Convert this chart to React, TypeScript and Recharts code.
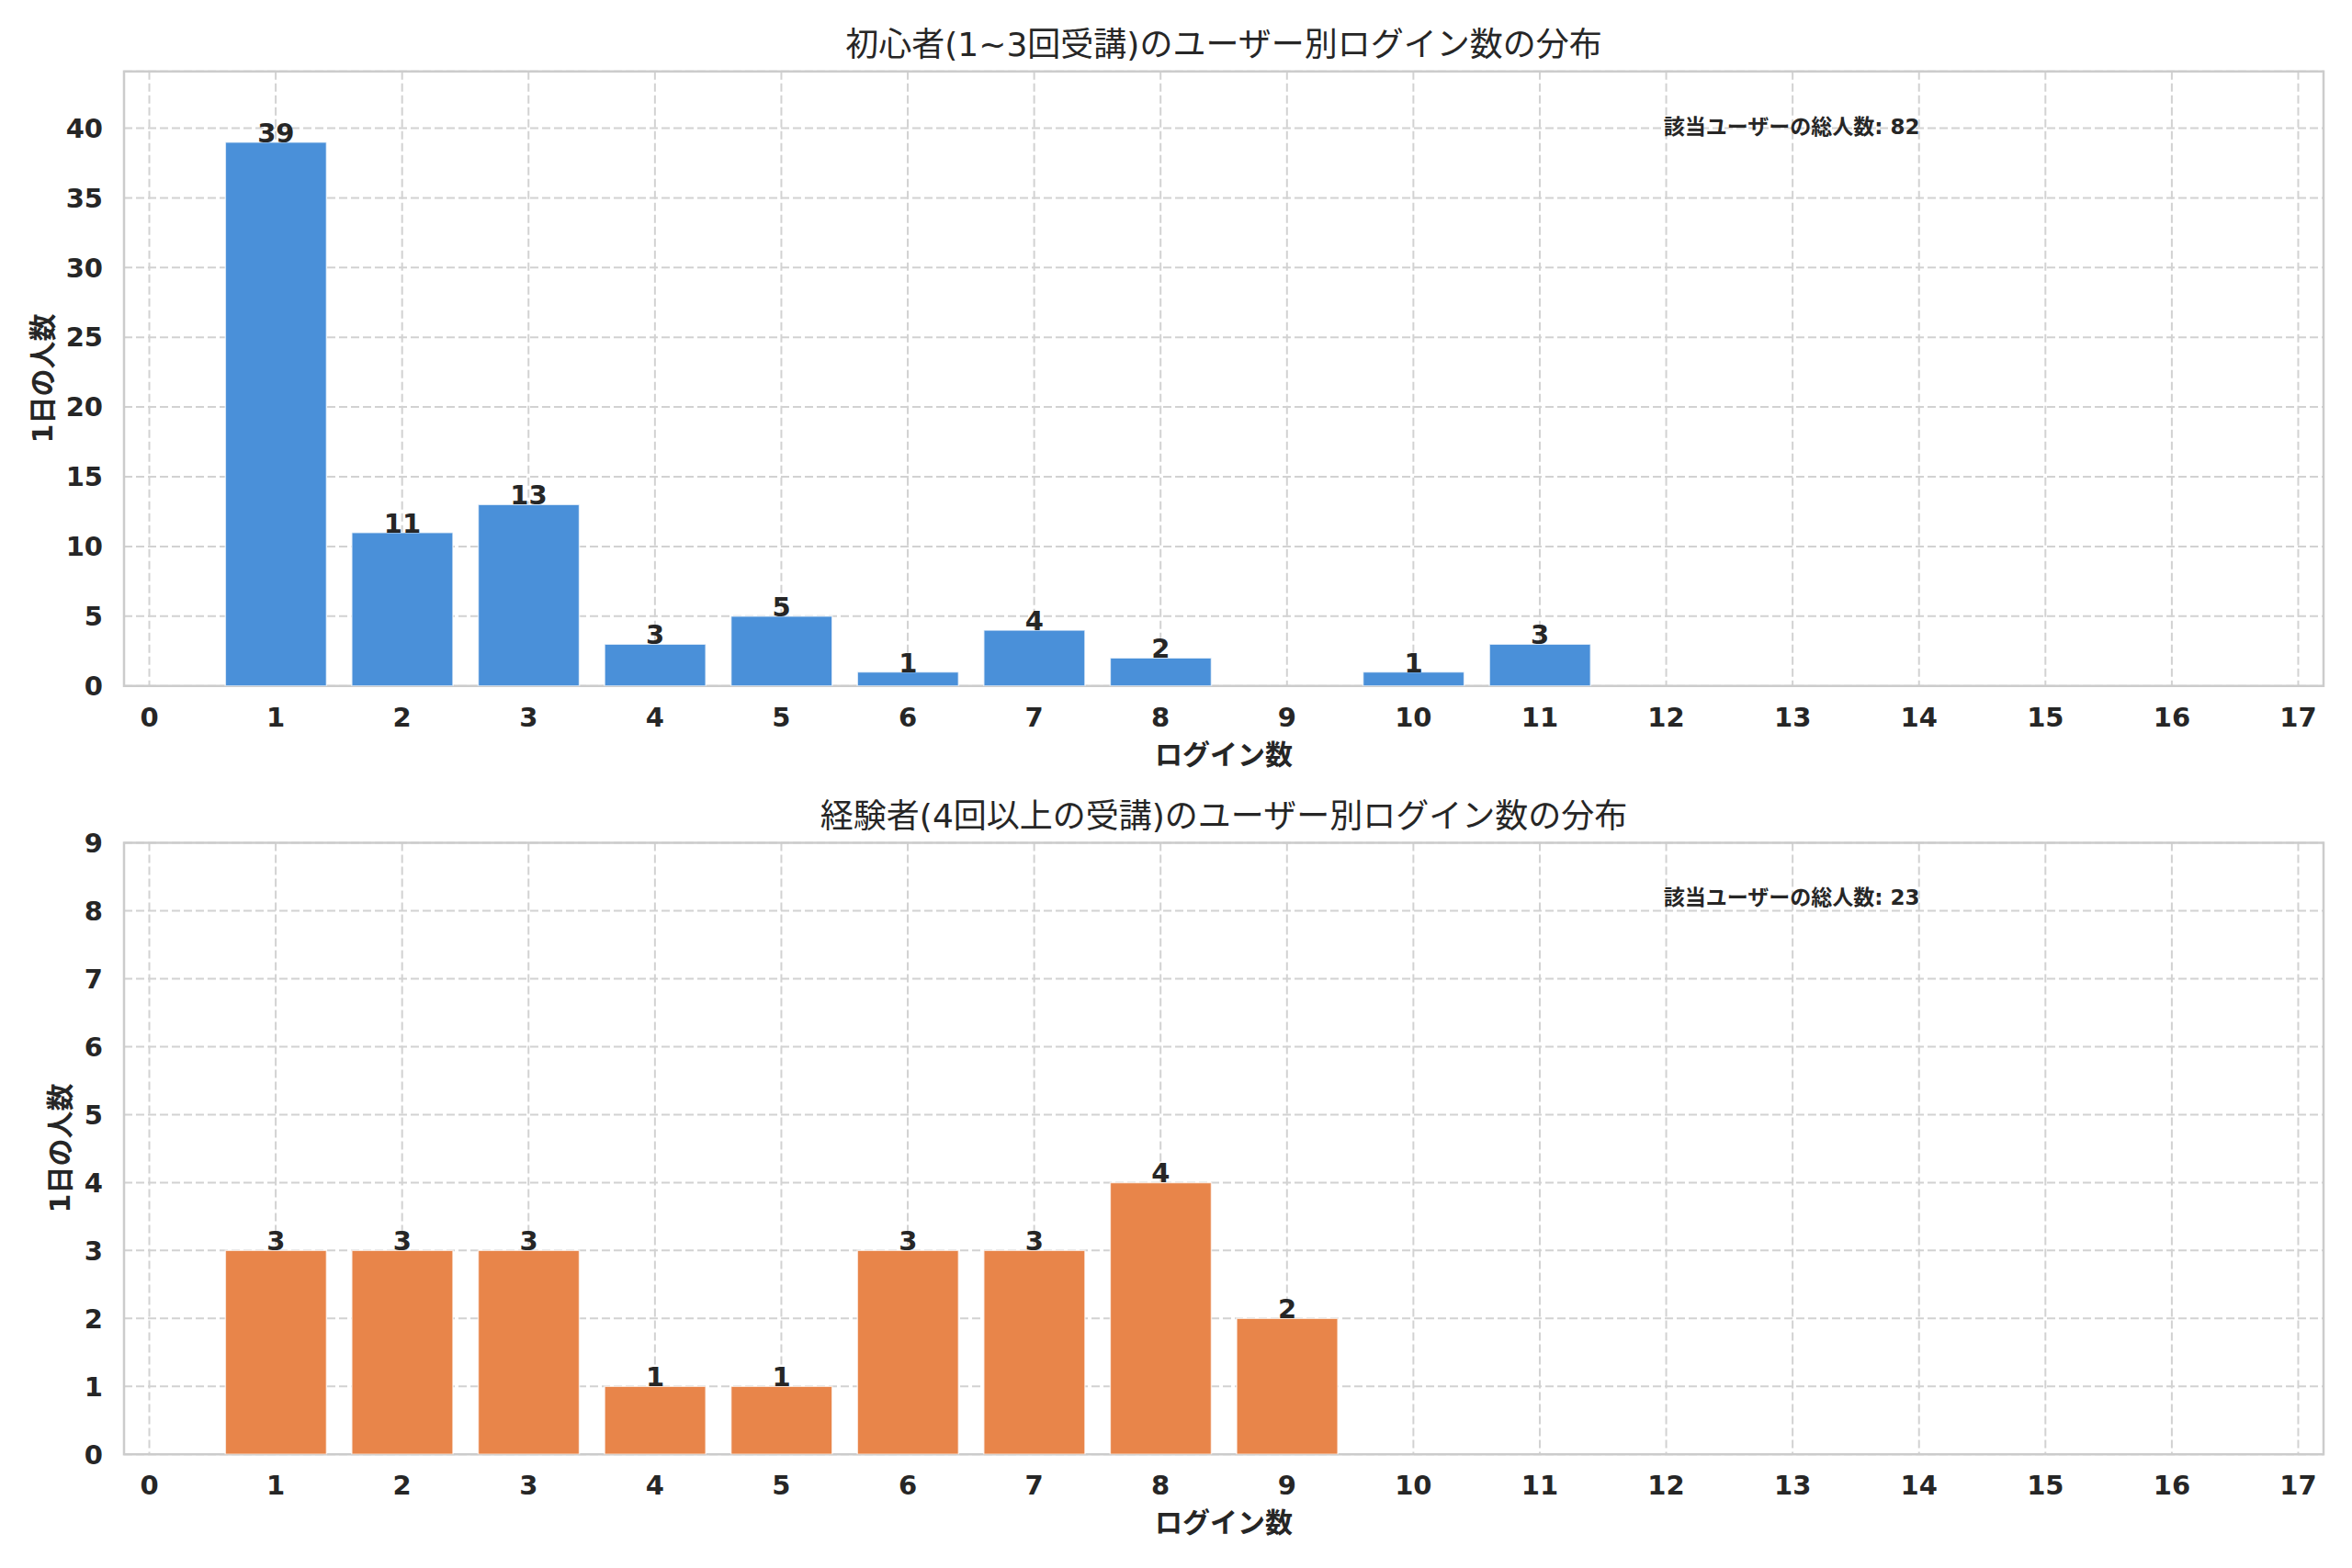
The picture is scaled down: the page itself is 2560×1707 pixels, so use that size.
import React from "react";
import { Bar, BarChart, CartesianGrid, LabelList, ReferenceArea, XAxis, YAxis } from "recharts";

// x = login count per user, v = number of users
const xTicks = [0, 1, 2, 3, 4, 5, 6, 7, 8, 9, 10, 11, 12, 13, 14, 15, 16, 17];

const lowX = [1, 2, 3, 4, 5, 6, 7, 8, 10, 11];
const lowCount = [39, 11, 13, 3, 5, 1, 4, 2, 1, 3];
const lowYTicks = [0, 5, 10, 15, 20, 25, 30, 35, 40];

const highX = [1, 2, 3, 4, 5, 6, 7, 8, 9];
const highCount = [3, 3, 3, 1, 1, 3, 3, 4, 2];
const highYTicks = [0, 1, 2, 3, 4, 5, 6, 7, 8, 9];

const lowTitle = "初心者(1~3回受講)のユーザー別ログイン数の分布";
const highTitle = "経験者(4回以上の受講)のユーザー別ログイン数の分布";
const xLabel = "ログイン数";
const yLabel = "1日の人数";
const totalLabel = "該当ユーザーの総人数";

const W = 2560;
const PLOT_LEFT = 135;
const PLOT_RIGHT = 2529;
const XAXIS_H = 106.3;
const X_DOMAIN: [number, number] = [-0.2, 17.2];
const UNIT = (PLOT_RIGHT - PLOT_LEFT) / (X_DOMAIN[1] - X_DOMAIN[0]);

const INK = "#262626";
const FONT = "'DejaVu Sans', 'Noto Sans CJK JP', sans-serif";
const tickStyle = { fill: INK, fontSize: 29, fontWeight: "bold", fontFamily: FONT };

type PanelProps = {
  top: number;
  height: number;
  plotTop: number;
  plotBottom: number;
  xs: number[];
  counts: number[];
  yMax: number;
  yTicks: number[];
  color: string;
  title: string;
  yLabelX: number;
};

function Panel({ top, height, plotTop, plotBottom, xs, counts, yMax, yTicks, color, title, yLabelX }: PanelProps) {
  const data = xs.map((x, i) => ({ x, v: counts[i] }));
  const total = counts.reduce((a, b) => a + b, 0);
  const plotH = plotBottom - plotTop;
  const centerX = (PLOT_LEFT + PLOT_RIGHT) / 2;
  const center: React.CSSProperties = {
    position: "absolute",
    transform: "translate(-50%, -50%)",
    whiteSpace: "nowrap",
    lineHeight: 1,
    color: INK,
    fontFamily: FONT,
  };

  return (
    <div style={{ position: "absolute", left: 0, top, width: W, height }}>
      <BarChart
        width={W}
        height={height}
        data={data}
        margin={{ top: plotTop, right: W - PLOT_RIGHT, bottom: height - plotBottom - XAXIS_H, left: 0 }}
      >
        <CartesianGrid stroke="#d2d2d2" strokeDasharray="9 4" strokeWidth={2} />
        <XAxis
          dataKey="x"
          type="number"
          domain={X_DOMAIN}
          ticks={xTicks}
          interval={0}
          allowDataOverflow
          height={XAXIS_H}
          axisLine={false}
          tickLine={false}
          tickSize={0}
          tickMargin={23.5}
          tick={tickStyle}
        />
        <YAxis
          type="number"
          domain={[0, yMax]}
          ticks={yTicks}
          interval={0}
          allowDataOverflow
          width={PLOT_LEFT}
          axisLine={false}
          tickLine={false}
          tickSize={0}
          tickMargin={23}
          tick={tickStyle}
        />
        <Bar dataKey="v" fill={color} barSize={0.8 * UNIT} stroke="#ffffff" strokeOpacity={0.7} strokeWidth={1.5} isAnimationActive={false}>
          <LabelList dataKey="v" position="top" offset={0} fill={INK} fontSize={29} fontWeight="bold" fontFamily={FONT} />
        </Bar>
        <ReferenceArea
          x1={X_DOMAIN[0]}
          x2={X_DOMAIN[1]}
          y1={0}
          y2={yMax}
          fill="none"
          stroke="#cccccc"
          strokeWidth={2.5}
          ifOverflow="visible"
        />
      </BarChart>

      <div style={{ ...center, left: centerX, top: plotTop - 28.7, fontSize: 36 }}>{title}</div>
      <div style={{ ...center, left: centerX, top: plotBottom + 75, fontSize: 30, fontWeight: "bold" }}>{xLabel}</div>
      <div
        style={{
          ...center,
          left: yLabelX,
          top: (plotTop + plotBottom) / 2,
          transform: "translate(-50%, -50%) rotate(-90deg)",
          fontSize: 30,
          fontWeight: "bold",
        }}
      >
        {yLabel}
      </div>
      <div
        style={{
          ...center,
          transform: "translate(0, -50%)",
          left: PLOT_LEFT + 0.7 * (PLOT_RIGHT - PLOT_LEFT),
          top: plotBottom - 0.91 * plotH,
          fontSize: 23,
          fontWeight: "bold",
        }}
      >
        {totalLabel}: {total}
      </div>
    </div>
  );
}

export default function App() {
  return (
    <div style={{ position: "relative", width: W, height: 1707, background: "#ffffff" }}>
      <style>{"body{margin:0;background:#fff}"}</style>
      <Panel
        top={0}
        height={853}
        plotTop={77.7}
        plotBottom={746.7}
        xs={lowX}
        counts={lowCount}
        yMax={44.07}
        yTicks={lowYTicks}
        color="#4a90d9"
        title={lowTitle}
        yLabelX={47}
      />
      <Panel
        top={853}
        height={854}
        plotTop={64.5}
        plotBottom={730.3}
        xs={highX}
        counts={highCount}
        yMax={9}
        yTicks={highYTicks}
        color="#e8854a"
        title={highTitle}
        yLabelX={66}
      />
    </div>
  );
}
